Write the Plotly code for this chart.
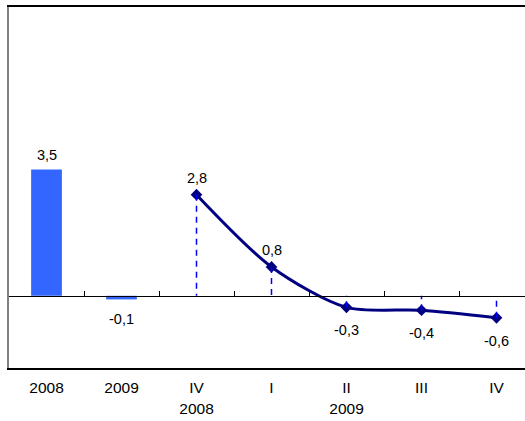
import plotly.graph_objects as go

# ---- data ----
tick_labels = ["2008", "2009", "IV<br>2008", "I", "II<br>2009", "III", "IV"]
bar_x = [0, 1]
bar_values = [3.5, -0.1]
line_x = [2, 3, 4, 5, 6]
line_values = [2.8, 0.8, -0.32, -0.40, -0.61]
line_labels = ["2,8", "0,8", "-0,3", "-0,4", "-0,6"]
bar_labels = ["3,5", "-0,1"]

FONT = "Liberation Sans, Arial, sans-serif"
n_cat = len(tick_labels)

fig = go.Figure()

fig.add_trace(go.Bar(
    x=bar_x, y=bar_values, width=0.41,
    marker=dict(color="#3366FF", line=dict(width=0)),
    showlegend=False, hoverinfo="skip",
))

# drop lines from each point to zero
dx, dy = [], []
for xv, yv in zip(line_x, line_values):
    dx += [xv, xv, None]
    dy += [yv, 0, None]
fig.add_trace(go.Scatter(
    x=dx, y=dy, mode="lines", xaxis="x2",
    line=dict(color="#0000FF", width=1.5, dash="6px,5px"),
    showlegend=False, hoverinfo="skip",
))

fig.add_trace(go.Scatter(
    x=line_x, y=line_values, mode="lines+markers",
    line=dict(color="#000080", width=3, shape="spline", smoothing=0.8),
    marker=dict(symbol="diamond", size=9, color="#000080"),
    showlegend=False, hoverinfo="skip",
))

annotations = []
for xv, yv, t in zip(bar_x, bar_values, bar_labels):
    annotations.append(dict(x=xv, y=yv, text=t, showarrow=False,
                            yanchor="middle", yshift=14 if yv > 0 else -20,
                            font=dict(family=FONT, size=14.5, color="black")))
for xv, yv, t in zip(line_x, line_values, line_labels):
    annotations.append(dict(x=xv, y=yv, text=t, showarrow=False,
                            yanchor="middle", yshift=17 if yv > 0 else -23,
                            font=dict(family=FONT, size=14.5, color="black")))

xr = [-0.5, n_cat - 0.5 - (534 - 525) / 75]

fig.update_layout(
    width=525, height=421,
    margin=dict(l=9, r=0, t=7, b=53),
    paper_bgcolor="white", plot_bgcolor="white",
    font=dict(family=FONT, size=15.5, color="black"),
    annotations=annotations,
    xaxis=dict(
        range=xr, tickmode="array", tickvals=list(range(n_cat)), ticktext=tick_labels,
        showgrid=False, zeroline=False, showline=True, mirror=True,
        linecolor="black", linewidth=1.5, ticks="", ticklabelstandoff=5,
        tickfont=dict(family=FONT, size=15.5, color="black"),
    ),
    xaxis2=dict(
        range=xr, overlaying="x", anchor="free", position=0.2,
        tickmode="array", tickvals=[i + 0.5 for i in range(n_cat - 1)],
        showticklabels=False, showgrid=False, zeroline=False,
        showline=True, linecolor="black", linewidth=1,
        ticks="inside", ticklen=5, tickcolor="black", tickwidth=1,
    ),
    yaxis=dict(
        range=[-2, 8], showgrid=False, zeroline=False, showticklabels=False,
        showline=True, linecolor="#808080", linewidth=2, ticks="",
    ),
)

fig.write_html("out.html")
